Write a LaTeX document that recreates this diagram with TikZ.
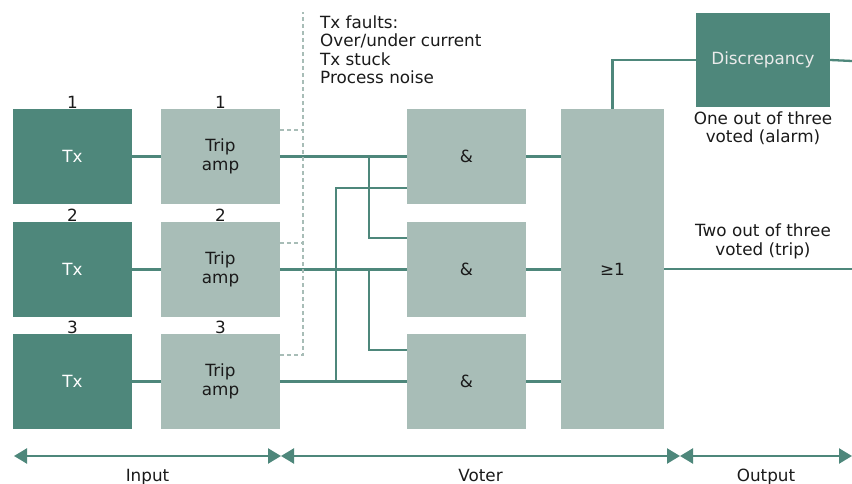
\documentclass[tikz,border=0pt]{standalone}
\usepackage{fontspec}
\setmainfont{DejaVu Sans}
\usetikzlibrary{arrows.meta}
\definecolor{deepteal}{HTML}{4E877B}
\definecolor{sage}{HTML}{A8BDB7}
\definecolor{ink}{HTML}{1A1A1A}
\tikzset{
  blk/.style={minimum width=119pt,minimum height=95pt,inner sep=0pt,align=center,font=\fontsize{16.8}{19.5}\selectfont},
  txblk/.style={blk,fill=deepteal,text=white},
  ampblk/.style={blk,fill=sage,text=ink},
  wire/.style={deepteal,line width=2.3pt},
  fault/.style={sage,line width=2.5pt,dash pattern=on 4pt off 3pt},
  span/.style={deepteal,line width=2.3pt,{Triangle[length=13pt,width=15pt]}-{Triangle[length=13pt,width=15pt]}},
  lbl/.style={text=ink,font=\fontsize{16.8}{18.5}\selectfont,inner sep=0pt}
}
\begin{document}
\begin{tikzpicture}[x=1pt,y=-1pt]
  \useasboundingbox (0,0) rectangle (852,484);
  \node[blk,fill=sage,text=ink,minimum width=103pt,minimum height=320pt] (or) at (612.5,269) {≥1};
  \node[txblk,minimum width=134pt,minimum height=94pt,text=white!92!black] (disc) at (763,60) {Discrepancy};
  \foreach \i/\y in {1/156.5,2/269.5,3/381.5}{
    \node[txblk] (tx\i) at (72.5,\y) {Tx};
    \node[ampblk] (amp\i) at (220.5,\y) {Trip\\amp};
    \node[ampblk] (and\i) at (466.5,\y) {\&};
    \node[lbl] (ntx\i) at (72.5,\y-54.5) {\i};
    \node[lbl] (namp\i) at (220.5,\y-54.5) {\i};
    \draw[wire] (tx\i) -- (amp\i);
    \draw[wire] (amp\i) -- (and\i);
    \draw[wire] (and\i) -- (and\i -| or.west);
  }
  \coordinate (busa) at (369,0);
  \coordinate (busb) at (336,0);
  \draw[wire] (busa |- amp1.east) |- ([yshift=31.5pt]and2.west);
  \draw[wire] (busa |- amp2.east) |- ([yshift=31.5pt]and3.west);
  \draw[wire] (busb |- amp3.east) |- ([yshift=-31.5pt]and1.west);
  \coordinate (alarm) at (852,61);
  \coordinate (trip) at (852,269);
  \draw[wire] (or.north) |- (disc.west);
  \draw[wire] (disc.east) -- (alarm);
  \draw[wire] (or.east) -- (trip);
  \coordinate (ftop) at (303,12);
  \draw[fault] ([yshift=26.5pt]amp3.east) -| (ftop);
  \draw[fault] ([yshift=26.5pt]amp1.east) -- ([yshift=26.5pt]amp1.east -| ftop);
  \draw[fault] ([yshift=26.5pt]amp2.east) -- ([yshift=26.5pt]amp2.east -| ftop);
  \node[lbl,align=left,anchor=north west] (faults) at (320,15.5) {Tx faults:\\Over/under current\\Tx stuck\\Process noise};
  \node[lbl,align=center] (alarmtxt) at (763,128) {One out of three\\voted (alarm)};
  \node[lbl,align=center] (triptxt) at (763,241.5) {Two out of three\\voted (trip)};
  \coordinate (s0) at (14,456);
  \coordinate (s1) at (281,456);
  \coordinate (s2) at (680,456);
  \coordinate (s3) at (852,456);
  \draw[span] (s0) -- node[lbl,anchor=base,yshift=-25pt] (input) {Input} (s1);
  \draw[span] (s1) -- node[lbl,anchor=base,yshift=-25pt] (voter) {Voter} (s2);
  \draw[span] (s2) -- node[lbl,anchor=base,yshift=-25pt] (output) {Output} (s3);
\end{tikzpicture}
\end{document}
